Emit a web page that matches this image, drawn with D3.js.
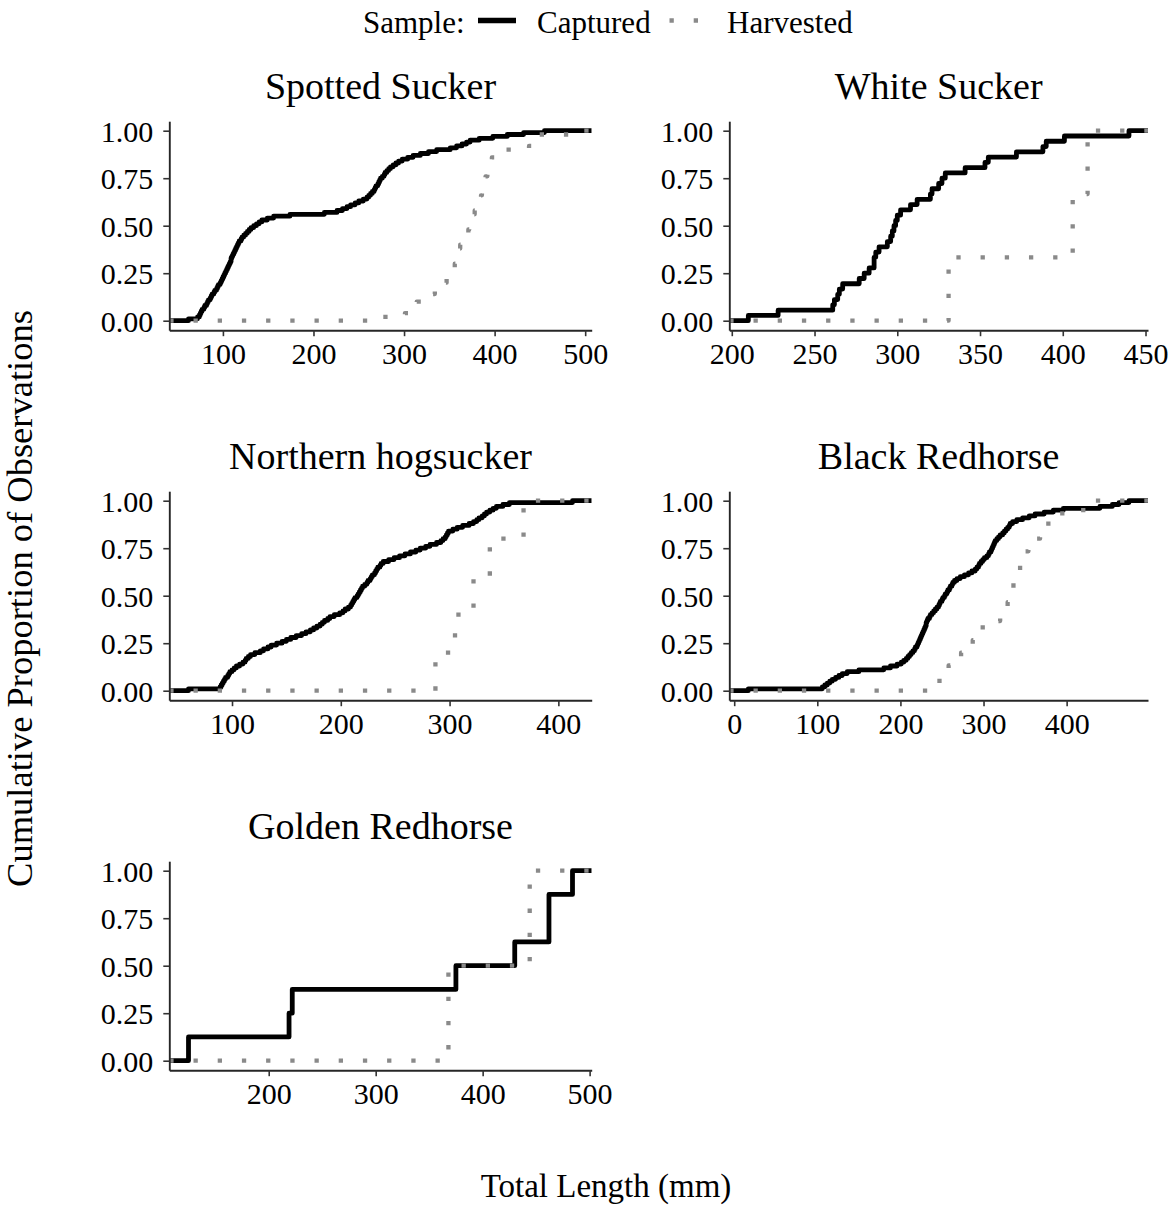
<!DOCTYPE html>
<html>
<head>
<meta charset="utf-8">
<script src="https://cdn.jsdelivr.net/npm/d3@7"></script>
<style>
  html, body { margin: 0; padding: 0; background: #fff; }
  svg { display: block; font-family: "Liberation Serif", "Times New Roman", serif; }
</style>
</head>
<body>
<svg id="chart" width="1176" height="1212"></svg>
<script>
// Fish total lengths (mm) by species and sample type
const species = ["Spotted Sucker", "White Sucker", "Northern hogsucker", "Black Redhorse", "Golden Redhorse"];
const samples = ["Captured", "Harvested"];

const spottedCaptured = [
  62, 72, 74, 75, 76, 77, 79, 80, 82, 83,
  84, 86, 87, 88, 90, 91, 93, 94, 95, 97,
  98, 99, 100, 101, 102, 103, 104, 105, 106, 107,
  108, 109, 109, 110, 111, 112, 113, 114, 115, 116,
  117, 118, 120, 121, 123, 125, 127, 129, 131, 134,
  137, 140, 143, 149, 156, 174, 212, 226, 232, 237,
  241, 246, 250, 255, 259, 261, 263, 265, 267, 268,
  269, 271, 272, 273, 274, 276, 278, 279, 281, 283,
  285, 288, 291, 294, 298, 304, 310, 318, 327, 336,
  351, 358, 364, 369, 373, 383, 398, 414, 432, 455
];
const spottedHarvested = [
  277, 301, 306, 310, 314, 320, 328, 334, 340, 345,
  347, 350, 352, 354, 356, 357, 358, 360, 361, 362,
  364, 366, 369, 371, 372, 374, 375, 377, 378, 380,
  382, 384, 385, 386, 387, 388, 389, 390, 392, 393,
  394, 395, 397, 405, 413, 438, 443, 446, 448, 486
];

const whiteCaptured = [
  210, 228, 261, 262, 264, 265, 267, 277, 280, 283,
  286, 286, 287, 289, 294, 296, 297, 298, 299, 300,
  302, 308, 312, 320, 321, 325, 327, 329, 341, 353,
  355, 372, 388, 390, 401, 440
];
const whiteHarvested = [331, 406, 415];

const northernCaptured = [
  60, 89, 90, 91, 92, 93, 94, 96, 97, 98,
  100, 102, 104, 107, 110, 112, 113, 115, 117, 121,
  126, 129, 133, 136, 141, 146, 150, 154, 159, 164,
  168, 172, 175, 178, 181, 183, 185, 188, 190, 194,
  199, 202, 204, 207, 209, 210, 211, 212, 213, 215,
  216, 217, 218, 219, 220, 222, 224, 225, 227, 228,
  229, 231, 232, 233, 234, 236, 237, 239, 244, 249,
  254, 259, 264, 269, 273, 278, 282, 288, 292, 294,
  296, 297, 298, 299, 303, 307, 312, 318, 322, 325,
  327, 330, 332, 334, 337, 340, 343, 349, 355, 413
];
const northernHarvested = [287, 305, 322, 337, 368];

const blackCaptured = [
  17, 106, 109, 112, 115, 118, 122, 126, 130, 136,
  150, 180, 188, 196, 201, 204, 207, 209, 211, 213,
  215, 217, 218, 220, 221, 222, 223, 224, 225, 226,
  227, 228, 229, 230, 231, 231, 232, 233, 235, 236,
  238, 240, 242, 244, 246, 247, 248, 250, 251, 253,
  254, 256, 257, 259, 260, 262, 263, 265, 268, 272,
  277, 282, 286, 290, 292, 294, 295, 297, 299, 301,
  304, 306, 307, 309, 310, 311, 312, 313, 314, 316,
  318, 320, 323, 325, 327, 329, 331, 332, 335, 340,
  347, 355, 362, 373, 384, 396, 440, 455, 463, 475
];
const blackHarvested = [
  241, 247, 252, 258, 266, 273, 281, 287, 291, 294,
  313, 320, 326, 329, 332, 334, 336, 339, 342, 344,
  346, 347, 354, 363, 368, 374, 378, 383, 420, 428
];

const goldenCaptured = [125, 219, 222, 375, 430, 462, 462, 484];
const goldenHarvested = [368, 444];

// Axis tick values
const spottedTicks = [100, 200, 300, 400, 500];
const whiteTicks = [200, 250, 300, 350, 400, 450];
const northernTicks = [100, 200, 300, 400];
const blackTicks = [0, 100, 200, 300, 400];
const goldenTicks = [200, 300, 400, 500];
const yTicks = [0, 0.25, 0.5, 0.75, 1];

const panels = [
  { title: species[0], captured: spottedCaptured, harvested: spottedHarvested, ticks: spottedTicks },
  { title: species[1], captured: whiteCaptured, harvested: whiteHarvested, ticks: whiteTicks },
  { title: species[2], captured: northernCaptured, harvested: northernHarvested, ticks: northernTicks },
  { title: species[3], captured: blackCaptured, harvested: blackHarvested, ticks: blackTicks },
  { title: species[4], captured: goldenCaptured, harvested: goldenHarvested, ticks: goldenTicks }
];

// Layout
const colX = [[169.3, 591.7], [729.3, 1148]];
const rowTop0 = 121.2, rowStep = 370, panelH = 209;

const styles = {
  Captured: { stroke: "#000", width: 4.8, dash: null },
  Harvested: { stroke: "#8a8a8a", width: 4.3, dash: "4.3,19.9" }
};

const svg = d3.select("#chart");

// Empirical CDF as step points, padded to the panel edges
function ecdfPoints(values, xLeft, xRight) {
  const sorted = values.slice().sort(d3.ascending);
  const n = sorted.length;
  const pts = [[xLeft, 0]];
  let c = 0;
  for (const [v, k] of d3.rollups(sorted, g => g.length, d => d)) {
    c += k;
    pts.push([v, c / n]);
  }
  pts.push([xRight, 1]);
  return pts;
}

panels.forEach((p, i) => {
  const col = i % 2, row = Math.floor(i / 2);
  const [x0, x1] = colX[col];
  const top = rowTop0 + row * rowStep, bottom = top + panelH;

  const [mn, mx] = d3.extent(p.captured.concat(p.harvested));
  const pad = (mx - mn) * 0.05;
  const x = d3.scaleLinear().domain([mn - pad, mx + pad]).range([x0, x1]);
  const y = d3.scaleLinear().domain([-0.05, 1.05]).range([bottom, top]);

  const g = svg.append("g");
  const clipId = "clip" + i;
  g.append("clipPath").attr("id", clipId)
    .append("rect").attr("x", x0).attr("y", top).attr("width", x1 - x0).attr("height", panelH);

  const line = d3.line().x(d => x(d[0])).y(d => y(d[1])).curve(d3.curveStepAfter);
  const plot = g.append("g").attr("clip-path", `url(#${clipId})`);
  samples.forEach(s => {
    const st = styles[s];
    const pts = ecdfPoints(s === "Captured" ? p.captured : p.harvested, x.domain()[0], x.domain()[1]);
    plot.append("path")
      .attr("d", line(pts))
      .attr("fill", "none")
      .attr("stroke", st.stroke)
      .attr("stroke-width", st.width)
      .attr("stroke-linejoin", "round")
      .attr("stroke-linecap", "butt")
      .attr("stroke-dasharray", st.dash);
  });

  // Axes
  const yAxis = g.append("g").attr("transform", `translate(${x0},0)`)
    .call(d3.axisLeft(y).tickValues(yTicks).tickFormat(d3.format(".2f"))
      .tickSize(6).tickSizeOuter(0).tickPadding(10));
  const xAxis = g.append("g").attr("transform", `translate(0,${bottom})`)
    .call(d3.axisBottom(x).tickValues(p.ticks).tickFormat(d3.format("d"))
      .tickSize(6).tickSizeOuter(0).tickPadding(6.2));
  [yAxis, xAxis].forEach(a => {
    a.select(".domain").attr("stroke", "#262626").attr("stroke-width", 1.9);
    a.selectAll(".tick line").attr("stroke", "#333").attr("stroke-width", 1.6);
    a.selectAll(".tick text").attr("font-size", 30).attr("fill", "#000")
      .attr("font-family", "'Liberation Serif', 'Times New Roman', serif");
  });
  yAxis.selectAll(".tick text").attr("dy", "0.35em");

  // Facet title
  g.append("text")
    .attr("x", (x0 + x1) / 2).attr("y", top - 22)
    .attr("text-anchor", "middle").attr("font-size", 38).attr("fill", "#000")
    .text(p.title);
});

// Axis titles
svg.append("text")
  .attr("x", 606).attr("y", 1197)
  .attr("text-anchor", "middle").attr("font-size", 33).attr("fill", "#000")
  .text("Total Length (mm)");
svg.append("text")
  .attr("transform", "translate(32,598.5) rotate(-90)")
  .attr("text-anchor", "middle").attr("font-size", 36.5).attr("fill", "#000")
  .text("Cumulative Proportion of Observations");

// Legend
const legend = svg.append("g").attr("font-size", 31).attr("fill", "#000");
legend.append("text").attr("x", 363).attr("y", 33).text("Sample:");
legend.append("line").attr("x1", 478).attr("x2", 516).attr("y1", 20.5).attr("y2", 20.5)
  .attr("stroke", styles.Captured.stroke).attr("stroke-width", 5.5);
legend.append("text").attr("x", 537).attr("y", 33).text(samples[0]);
legend.append("line").attr("x1", 669.5).attr("x2", 707).attr("y1", 20.5).attr("y2", 20.5)
  .attr("stroke", styles.Harvested.stroke).attr("stroke-width", styles.Harvested.width)
  .attr("stroke-dasharray", styles.Harvested.dash);
legend.append("text").attr("x", 727).attr("y", 33).text(samples[1]);
</script>
</body>
</html>
